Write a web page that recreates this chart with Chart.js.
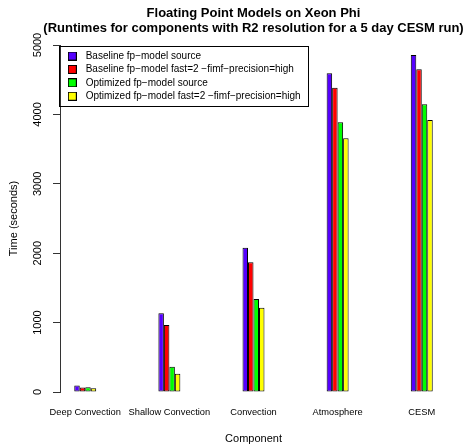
<!DOCTYPE html>
<html>
<head>
<meta charset="utf-8">
<script src="https://cdn.jsdelivr.net/npm/chart.js@4.4.1/dist/chart.umd.min.js"></script>
<style>
html,body{margin:0;padding:0;background:#fff;}
#wrap{width:467px;height:446px;position:relative;}
</style>
</head>
<body>
<div id="wrap"><canvas id="c" width="467" height="446"></canvas></div>
<script>
const categories = ["Deep Convection", "Shallow Convection", "Convection", "Atmosphere", "CESM"];
const seriesNames = [
  "Baseline fp\u2212model source",
  "Baseline fp\u2212model fast=2 \u2212fimf\u2212precision=high",
  "Optimized fp\u2212model source",
  "Optimized fp\u2212model fast=2 \u2212fimf\u2212precision=high"
];
const baselineSource = [92, 1136, 2079, 4592, 4856];
const baselineFast = [64, 967, 1868, 4385, 4650];
const optimizedSource = [68, 365, 1340, 3886, 4146];
const optimizedFast = [53, 264, 1215, 3655, 3919];
const yTicks = [0, 1000, 2000, 3000, 4000, 5000];
const colors = ["#5500FF", "#FF0000", "#00FF00", "#FFFF00"];

const FONT = "'Liberation Sans', Arial, Helvetica, sans-serif";
const allSeries = [baselineSource, baselineFast, optimizedSource, optimizedFast];

function legendSwatch(color) {
  const c = document.createElement('canvas');
  c.width = 9; c.height = 9;
  const g = c.getContext('2d');
  g.fillStyle = '#000';
  g.fillRect(0, 0, 9, 9);
  g.fillStyle = color;
  g.fillRect(1, 1, 7, 7);
  return c;
}

const datasets = allSeries.map((vals, i) => ({
  label: seriesNames[i],
  data: vals.map((v, j) => ({x: j + 1, y: v})),
  backgroundColor: colors[i],
  borderColor: "#000",
  borderWidth: 1,
  borderSkipped: false,
  pointStyle: legendSwatch(colors[i]),
  categoryPercentage: 0.261,
  barPercentage: 1.0
}));

const placeBoxes = {
  id: 'placeBoxes',
  afterLayout(chart) {
    const ca = chart.chartArea;
    const lg = chart.legend;
    if (lg) {
      lg.left = ca.left + 0.5;
      lg.top = ca.top + 2.6;
      lg.right = lg.left + 249;
      lg.bottom = lg.top + 58;
    }
    const tb = chart.titleBlock;
    if (tb) {
      // centre the title over the plot region without squeezing it
      const centre = (ca.left + ca.right) / 2;
      tb.left = centre - 213.5;
      tb.right = centre + 213.5;
    }
  },
  afterDraw(chart) {
    const ca = chart.chartArea;
    const ctx = chart.ctx;
    ctx.save();
    ctx.strokeStyle = '#000';
    ctx.lineWidth = 1;
    ctx.strokeRect(Math.round(ca.left) - 0.5, Math.round(ca.top) + 1.5, 249, 60);
    ctx.restore();
  }
};

new Chart(document.getElementById('c'), {
  type: 'bar',
  data: { datasets },
  plugins: [placeBoxes],
  options: {
    responsive: false,
    animation: false,
    devicePixelRatio: 1,
    layout: { padding: { left: 0, right: 20, top: 0, bottom: 0 } },
    plugins: {
      tooltip: { enabled: false },
      title: {
        display: true,
        fullSize: false,
        text: ["Floating Point Models on Xeon Phi", "(Runtimes for components with R2 resolution for a 5 day CESM run)"],
        color: '#000',
        font: { family: FONT, size: 13, weight: 'bold', lineHeight: 1.154 },
        padding: { top: 5.5, bottom: 9.5 }
      },
      legend: {
        position: 'chartArea',
        align: 'start',
        labels: {
          color: '#000',
          font: { family: FONT, size: 10 },
          usePointStyle: true,
          pointStyleWidth: 16.8,
          boxHeight: 9,
          padding: 3.4
        }
      }
    },
    scales: {
      x: {
        type: 'linear',
        offset: false,
        min: 0.7,
        max: 5.3,
        grid: { display: false, drawTicks: false, offset: false },
        border: { display: false },
        afterBuildTicks: (scale) => { scale.ticks = categories.map((c, i) => ({ value: i + 1 })); },
        afterFit: (scale) => { scale.height = 54; scale.paddingLeft = 0; scale.paddingRight = 0; },
        ticks: {
          autoSkip: false,
          maxRotation: 0,
          minRotation: 0,
          padding: 15,
          color: '#000',
          font: { family: FONT, size: 9.3 },
          callback: (v) => categories[Math.round(v) - 1] || ''
        },
        title: {
          display: true,
          text: 'Component',
          color: '#000',
          font: { family: FONT, size: 11 },
          padding: { top: 0, bottom: 0 }
        }
      },
      y: {
        min: 0,
        max: 5000,
        afterBuildTicks: (scale) => { scale.ticks = yTicks.map(v => ({ value: v })); },
        afterFit: (scale) => { scale.width = 60; scale.paddingTop = 0; scale.paddingBottom = 0; },
        grid: { display: true, drawOnChartArea: false, drawTicks: true, tickLength: 7, color: '#333' },
        border: { display: true, color: '#333', width: 1 },
        ticks: {
          minRotation: 90,
          maxRotation: 90,
          crossAlign: 'center',
          padding: 3,
          color: '#000',
          font: { family: FONT, size: 11 },
          callback: (v) => String(v)
        },
        title: {
          display: true,
          text: 'Time (seconds)',
          color: '#000',
          font: { family: FONT, size: 11 },
          padding: { top: 7, bottom: 0 }
        }
      }
    }
  }
});
</script>
</body>
</html>
